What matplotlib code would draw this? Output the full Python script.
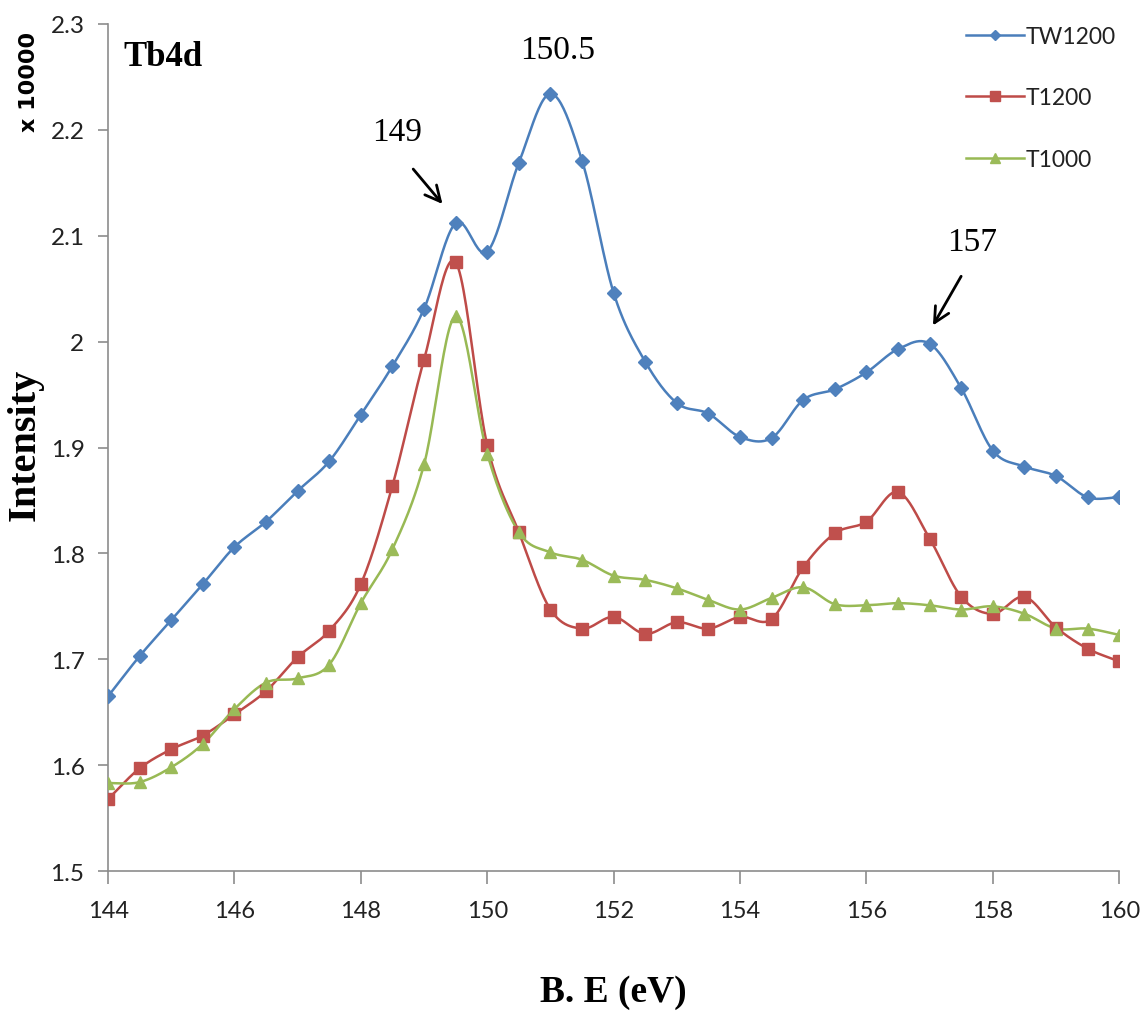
import numpy as np
import matplotlib
matplotlib.use("Agg")
import matplotlib.pyplot as plt

# Binding energy grid (eV) and intensities (x 10000 counts)
energy = [144.0, 144.5, 145.0, 145.5, 146.0, 146.5, 147.0, 147.5, 148.0, 148.5,
          149.0, 149.5, 150.0, 150.5, 151.0, 151.5, 152.0, 152.5, 153.0, 153.5,
          154.0, 154.5, 155.0, 155.5, 156.0, 156.5, 157.0, 157.5, 158.0, 158.5,
          159.0, 159.5, 160.0]

tw1200 = [1.665, 1.703, 1.737, 1.771, 1.806, 1.830, 1.859, 1.887, 1.931, 1.977,
          2.031, 2.112, 2.085, 2.169, 2.234, 2.171, 2.046, 1.981, 1.942, 1.932,
          1.910, 1.909, 1.945, 1.955, 1.971, 1.993, 1.998, 1.956, 1.897, 1.882,
          1.873, 1.853, 1.853]

t1200 = [1.568, 1.597, 1.615, 1.628, 1.648, 1.670, 1.702, 1.727, 1.771, 1.864,
         1.983, 2.075, 1.902, 1.820, 1.747, 1.729, 1.740, 1.724, 1.735, 1.729,
         1.740, 1.738, 1.787, 1.819, 1.830, 1.858, 1.814, 1.759, 1.743, 1.759,
         1.730, 1.710, 1.698]

t1000 = [1.583, 1.584, 1.598, 1.620, 1.653, 1.678, 1.682, 1.695, 1.753, 1.804,
         1.884, 2.024, 1.894, 1.820, 1.801, 1.794, 1.779, 1.775, 1.767, 1.756,
         1.747, 1.758, 1.768, 1.752, 1.751, 1.753, 1.751, 1.747, 1.750, 1.743,
         1.729, 1.729, 1.723]

series_names = ["TW1200", "T1200", "T1000"]
x_ticks = [144, 146, 148, 150, 152, 154, 156, 158, 160]
y_ticks = [1.5, 1.6, 1.7, 1.8, 1.9, 2.0, 2.1, 2.2, 2.3]
y_tick_labels = ["1.5", "1.6", "1.7", "1.8", "1.9", "2", "2.1", "2.2", "2.3"]


def smooth_curve(x, y, steps=24):
    """Catmull-Rom spline through the points (spreadsheet-style smoothed line)."""
    x = np.asarray(x, float)
    y = np.asarray(y, float)
    px = np.concatenate([[2 * x[0] - x[1]], x, [2 * x[-1] - x[-2]]])
    py = np.concatenate([[2 * y[0] - y[1]], y, [2 * y[-1] - y[-2]]])
    xs, ys = [], []
    t = np.linspace(0, 1, steps, endpoint=False)
    for i in range(1, len(px) - 2):
        p0, p1, p2, p3 = (np.array([px[j], py[j]]) for j in (i - 1, i, i + 1, i + 2))
        c1 = p1 + (p2 - p0) / 6.0
        c2 = p2 - (p3 - p1) / 6.0
        tt = t[:, None]
        pts = ((1 - tt) ** 3 * p1 + 3 * (1 - tt) ** 2 * tt * c1
               + 3 * (1 - tt) * tt ** 2 * c2 + tt ** 3 * p2)
        xs.append(pts[:, 0])
        ys.append(pts[:, 1])
    xs.append([x[-1]])
    ys.append([y[-1]])
    return np.concatenate(xs), np.concatenate(ys)


fig = plt.figure(figsize=(11.42, 10.12), dpi=100)
ax = fig.add_axes([0.0946, 0.1383, 0.8855, 0.8370])

styles = [
    dict(line="#4A7EBB", face="#4F81BD", marker="D", ms=7),
    dict(line="#BE4B48", face="#C0504D", marker="s", ms=8.5),
    dict(line="#98B954", face="#9BBB59", marker="^", ms=9),
]

for name, vals, st in zip(series_names, [tw1200, t1200, t1000], styles):
    sx, sy = smooth_curve(energy, vals)
    ax.plot(sx, sy, color=st["line"], lw=1.8, zorder=2)
    ax.plot(energy, vals, linestyle="none", marker=st["marker"], ms=st["ms"],
            mfc=st["face"], mec=st["face"], zorder=3)
    # legend proxy: line with a single marker
    ax.plot([], [], color=st["line"], lw=1.8, marker=st["marker"],
            ms=st["ms"] * 0.8, mfc=st["face"], mec=st["face"], label=name)

ax.set_xlim(144, 160)
ax.set_ylim(1.5, 2.3)
ax.set_xticks(x_ticks)
ax.set_yticks(y_ticks)
ax.set_yticklabels(y_tick_labels)

for side in ("top", "right"):
    ax.spines[side].set_visible(False)
for side in ("left", "bottom"):
    ax.spines[side].set_color("#8C8C8C")
    ax.spines[side].set_linewidth(1.2)

ax.tick_params(axis="both", direction="out", color="#8C8C8C", width=1.2,
               labelcolor="#222222")
ax.tick_params(axis="y", length=7, pad=10, labelsize=17.5)
ax.tick_params(axis="x", length=9, pad=12, labelsize=17)
for lab in ax.get_xticklabels() + ax.get_yticklabels():
    lab.set_family("Lato")

ax.set_xlabel("B. E (eV)", family="Liberation Serif", fontweight="bold",
              fontsize=27, labelpad=38)
fig.text(25 / 1142, 1 - 445 / 1012, "Intensity", rotation=90, ha="center",
         va="center", family="Liberation Serif", fontweight="bold", fontsize=29)

fig.text(29 / 1142, 1 - 82 / 1012, "x 10000", rotation=90, ha="center",
         va="center", family="DejaVu Sans", fontweight="bold", fontsize=16)

ax.text(144.24, 2.269, "Tb4d", family="Liberation Serif", fontweight="bold",
        fontsize=25, ha="left", va="center")

serif = dict(family="Liberation Serif", fontsize=24, ha="center", va="center")
ax.text(148.57, 2.198, "149", **serif)
ax.text(151.12, 2.276, "150.5", **serif)
ax.text(157.67, 2.094, "157", **serif)

arrow = dict(arrowstyle="->,head_length=1.1,head_width=0.55", color="black", lw=2.0)
ax.annotate("", xy=(149.32, 2.128), xytext=(148.80, 2.165), arrowprops=arrow)
ax.annotate("", xy=(157.03, 2.013), xytext=(157.52, 2.064), arrowprops=arrow)

leg = ax.legend(loc="upper right", bbox_to_anchor=(1.006, 1.008), frameon=False,
                prop=dict(family="Lato", size=16.5), labelspacing=1.75,
                handlelength=2.5, handletextpad=0.1, borderaxespad=0.0)
for txt in leg.get_texts():
    txt.set_color("#222222")

fig.savefig("out.png", dpi=100, facecolor="white")
